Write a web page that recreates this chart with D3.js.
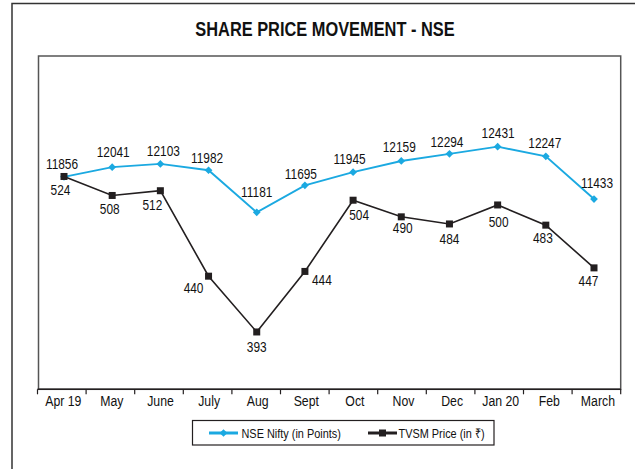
<!DOCTYPE html>
<html>
<head>
<meta charset="utf-8">
<script src="https://cdn.jsdelivr.net/npm/d3@7"></script>
<style>
  body { margin: 0; background: #fff; }
  svg { display: block; font-family: "Liberation Sans", Arial, sans-serif; }
</style>
</head>
<body>
<div id="chart"></div>
<script>
var months = ['Apr 19', 'May', 'June', 'July', 'Aug', 'Sept', 'Oct', 'Nov', 'Dec', 'Jan 20', 'Feb', 'March']
var nifty = [11856, 12041, 12103, 11982, 11181, 11695, 11945, 12159, 12294, 12431, 12247, 11433]
var tvsm = [524, 508, 512, 440, 393, 444, 504, 490, 484, 500, 483, 447]
var seriesNames = ['NSE Nifty (in Points)', 'TVSM Price (in ₹)']

var width = 635, height = 469
var plot = {left: 38.5, top: 56, right: 620.7, bottom: 389.3}
var blue = '#1ba9e1'
var dark = '#231f20'
var narrow = 0.82 // squeeze regular glyphs into an Arial Narrow look

function at(x, y) {
  return 'translate(' + x + ',' + y + ') scale(' + narrow + ',1)'
}

// hand nudges of the data labels, as in the original layout
var niftyNudge = [[-2, -8], [1, -10], [3, -7.5], [-1.5, -7.5], [0, -15.5], [-4, -6.5],
  [-3.5, -8], [-2, -9], [-2.5, -7], [0.5, -8.5], [-1, -8.5], [3, -11]]
var tvsmNudge = [[-3.5, 18.5], [-2.5, 18.7], [-8, 19.7], [-15, 17], [0, 19.7], [7, 14],
  [6, 19.7], [1.5, 16.5], [0, 20.3], [1, 22.5], [-3, 17.7], [-5.5, 17.7]]

var svg = d3.select('#chart').append('svg')
  .attr('width', width)
  .attr('height', height)

// outer frame
svg.append('rect')
  .attr('x', 12).attr('y', 3.5)
  .attr('width', 660).attr('height', 500)
  .attr('fill', 'none')
  .attr('stroke', '#333')
  .attr('stroke-width', 1.5)

svg.append('text')
  .attr('transform', at(325, 36))
  .attr('text-anchor', 'middle')
  .attr('font-size', 20)
  .attr('font-weight', 'bold')
  .attr('fill', '#111')
  .text('SHARE PRICE MOVEMENT - NSE')

// plot area box
svg.append('rect')
  .attr('x', plot.left).attr('y', plot.top)
  .attr('width', plot.right - plot.left).attr('height', plot.bottom - plot.top)
  .attr('fill', 'none')
  .attr('stroke', '#555')
  .attr('stroke-width', 1.5)

var xBand = d3.scaleBand().domain(months).range([plot.left - 1, plot.right])
var x = d3.scalePoint().domain(months).range([64, 594])
var yNifty = d3.scaleLinear().domain([7808, 14159]).range([plot.bottom, plot.top])
var yTvsm = d3.scaleLinear().domain([344.7, 625.5]).range([plot.bottom, plot.top])

// category axis with ticks between bands
var axis = svg.append('g')
  .attr('transform', 'translate(0,' + plot.bottom + ')')
axis.append('line')
  .attr('x1', xBand.range()[0]).attr('x2', xBand.range()[1])
  .attr('stroke', dark).attr('stroke-width', 1.5)
var bounds = months.map(function(m) { return xBand(m) }).concat([xBand.range()[1]])
axis.selectAll('.tick').data(bounds).enter().append('line')
  .attr('x1', function(d) { return d }).attr('x2', function(d) { return d })
  .attr('y1', 0).attr('y2', 5)
  .attr('stroke', dark).attr('stroke-width', 1.2)
axis.selectAll('.lbl').data(months).enter().append('text')
  .attr('transform', function(d) { return at(xBand(d) + xBand.bandwidth() / 2 + 1.5, 16.5) })
  .attr('text-anchor', 'middle')
  .attr('font-size', 15)
  .attr('fill', '#111')
  .text(function(d) { return d })

var lineNifty = d3.line()
  .x(function(d, i) { return x(months[i]) })
  .y(function(d) { return yNifty(d) })
var lineTvsm = d3.line()
  .x(function(d, i) { return x(months[i]) })
  .y(function(d) { return yTvsm(d) })

svg.append('path').datum(nifty)
  .attr('d', lineNifty)
  .attr('fill', 'none').attr('stroke', blue).attr('stroke-width', 1.9)
svg.append('path').datum(tvsm)
  .attr('d', lineTvsm)
  .attr('fill', 'none').attr('stroke', dark).attr('stroke-width', 1.6)

var diamond = d3.symbol().type(d3.symbolSquare).size(30)

svg.selectAll('.dn').data(nifty).enter().append('path')
  .attr('d', diamond)
  .attr('transform', function(d, i) { return 'translate(' + x(months[i]) + ',' + yNifty(d) + ') rotate(45)' })
  .attr('fill', blue)

svg.selectAll('.sq').data(tvsm).enter().append('rect')
  .attr('x', function(d, i) { return x(months[i]) - 3.5 })
  .attr('y', function(d) { return yTvsm(d) - 3.5 })
  .attr('width', 7).attr('height', 7)
  .attr('fill', dark)

svg.selectAll('.ln').data(nifty).enter().append('text')
  .attr('transform', function(d, i) { return at(x(months[i]) + niftyNudge[i][0], yNifty(d) + niftyNudge[i][1]) })
  .attr('text-anchor', 'middle')
  .attr('font-size', 14.5)
  .attr('fill', '#111')
  .text(function(d) { return d })

// 444 sits to the right of its marker, the rest are centred
svg.selectAll('.lt').data(tvsm).enter().append('text')
  .attr('transform', function(d, i) { return at(x(months[i]) + tvsmNudge[i][0], yTvsm(d) + tvsmNudge[i][1]) })
  .attr('text-anchor', function(d, i) { return i === 5 ? 'start' : 'middle' })
  .attr('font-size', 14.5)
  .attr('fill', '#111')
  .text(function(d) { return d })

// legend
var legend = svg.append('g')
legend.append('rect')
  .attr('x', 192.5).attr('y', 420.5)
  .attr('width', 301.5).attr('height', 24.5)
  .attr('fill', '#fff').attr('stroke', dark).attr('stroke-width', 1.2)

var items = [
  {name: seriesNames[0], color: blue, lx: 209, tx: 241.5, mark: 'diamond'},
  {name: seriesNames[1], color: dark, lx: 368, tx: 398.5, mark: 'square'}
]
items.forEach(function(it) {
  var cy = 433
  legend.append('line')
    .attr('x1', it.lx).attr('x2', it.lx + 29)
    .attr('y1', cy).attr('y2', cy)
    .attr('stroke', it.color).attr('stroke-width', 3)
  if (it.mark === 'diamond') {
    legend.append('path')
      .attr('d', diamond)
      .attr('transform', 'translate(' + (it.lx + 14.5) + ',' + cy + ') rotate(45)')
      .attr('fill', it.color)
  } else {
    legend.append('rect')
      .attr('x', it.lx + 11).attr('y', cy - 3.5)
      .attr('width', 7).attr('height', 7)
      .attr('fill', it.color)
  }
  legend.append('text')
    .attr('transform', at(it.tx, cy + 4.5))
    .attr('font-size', 13.3)
    .attr('fill', '#111')
    .text(it.name)
})
</script>
</body>
</html>
